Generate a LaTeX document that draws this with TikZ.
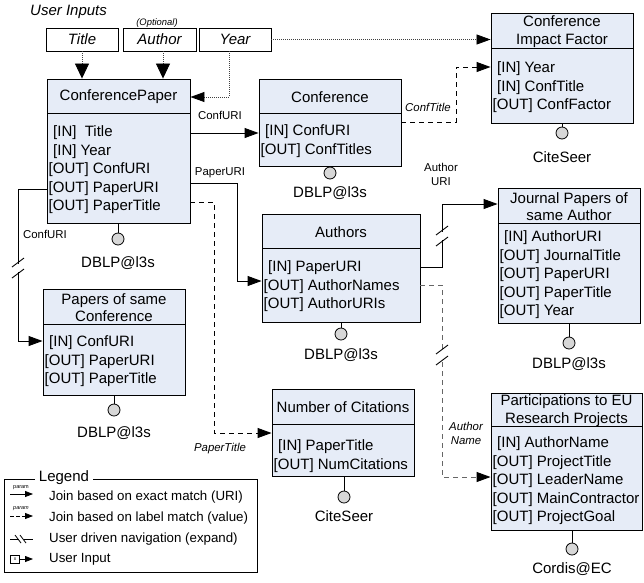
\documentclass[tikz,border=0pt]{standalone}
\usepackage{fontspec}
\setmainfont{Liberation Sans}
\usetikzlibrary{arrows.meta,fit,calc}
\definecolor{boxfill}{RGB}{230,236,247}
\definecolor{plugfill}{RGB}{215,215,215}

\tikzset{
  svcbox/.style={draw, fill=boxfill, line width=0.9pt, inner sep=0pt},
  hdr/.style={font=\fontsize{15}{17.5}\selectfont, align=center, inner sep=0pt},
  row/.style={font=\fontsize{15}{18}\selectfont, inner sep=0pt, anchor=base west},
  src/.style={font=\fontsize{15}{18}\selectfont, inner sep=0pt},
  plug/.style={circle, draw, line width=0.8pt, fill=plugfill, minimum size=12pt, inner sep=0pt},
  uin/.style={draw, fill=white, line width=0.9pt, font=\fontsize{15}{18}\selectfont\itshape, inner sep=0pt, minimum height=23pt},
  lbl/.style={font=\fontsize{11.4}{14}\selectfont, inner sep=0pt, align=center},
  ilbl/.style={font=\fontsize{11.4}{14}\selectfont\itshape, inner sep=0pt, align=center},
  legtxt/.style={font=\fontsize{13.3}{16}\selectfont, inner sep=0pt, anchor=west},
  tiny/.style={font=\fontsize{5.5}{6}\selectfont, inner sep=0pt},
  tip/.style={-{Triangle[length=14pt,width=10pt]}},
  smalltip/.style={-{Triangle[length=8pt,width=6pt]}},
  exact/.style={line width=0.9pt, tip},
  labelmatch/.style={line width=0.9pt, tip, dash pattern=on 5pt off 4pt},
  userin/.style={line width=0.8pt, black!75, dash pattern=on 1pt off 1pt, -{Triangle[length=14pt,width=10pt,black]}},
  brk/.style={line width=0.9pt},
}

% service box: name, x1, y1, x2, y2, divider y, title, first row y, rows
\newcommand\svc[9]{%
  \node[svcbox, fit={(#2,#3) (#4,#5)}] (#1) {};
  \draw[line width=0.9pt] (#2,#6) -- (#4,#6);
  \node[hdr] (#1-t) at ({(#2+#4)/2},{(#3+#6)/2+1}) {#7};
  \foreach \r [count=\i] in {#9}
    \node[row] (#1-r\i) at (#2+1.5, {#8+5.5+(\i-1)*18.5}) {\r};
}
% data source plug: box name, x, circle y, label y, label
\newcommand\plugat[5]{%
  \node[plug] (#1-p) at (#2,#3) {};
  \draw[line width=0.8pt] (#1.south -| #1-p) -- (#1-p);
  \node[src] (#1-s) at (#2,#4) {#5};
}
% navigation break marks on a vertical line at (x, y)
\newcommand\navbreak[2]{%
  \fill[white] (#1-2,#2-4) rectangle (#1+2,#2+4);
  \draw[brk] (#1-6,#2-1) -- (#1+6,#2-10);
  \draw[brk] (#1-6,#2+10) -- (#1+6,#2+1);
}
\newcommand\inrow{\hspace{4.5pt}}

\begin{document}
\begin{tikzpicture}[x=1pt, y=-1pt]
\useasboundingbox (0,0) rectangle (644,582);

% user inputs
\node[font=\fontsize{15}{18}\selectfont\itshape, inner sep=0pt, anchor=west] (uitl) at (30,12) {User Inputs};
\node[font=\fontsize{9.4}{11}\selectfont\itshape, inner sep=0pt] (opt) at (157,23) {(Optional)};
\node[uin, minimum width=72pt] (ti) at (82,39.5) {Title};
\node[uin, minimum width=73pt] (au) at (159.5,39.5) {Author};
\node[uin, minimum width=72pt] (yr) at (235,39.5) {Year};

% services
\svc{cp}{47}{79}{190}{223}{113}{ConferencePaper}{131}
  {\inrow[IN]\ \ Title, \inrow[IN] Year, [OUT] ConfURI, [OUT] PaperURI, [OUT] PaperTitle}
\svc{conf}{259}{79}{401}{166}{113}{Conference}{130}
  {\inrow[IN] ConfURI, [OUT] ConfTitles}
\svc{cif}{491}{13}{633}{123}{48}{Conference\\Impact Factor}{67}
  {\inrow[IN] Year, \inrow[IN] ConfTitle, [OUT] ConfFactor}
\svc{auth}{262}{214}{420}{322}{248}{Authors}{266}
  {\inrow[IN] PaperURI, [OUT] AuthorNames, [OUT] AuthorURIs}
\svc{jour}{498}{188}{640}{323}{223}{Journal Papers of\\same Author}{236}
  {\inrow[IN] AuthorURI, [OUT] JournalTitle, [OUT] PaperURI, [OUT] PaperTitle, [OUT] Year}
\svc{psc}{43}{289}{185}{395}{324}{Papers of same\\Conference}{341}
  {\inrow[IN] ConfURI, [OUT] PaperURI, [OUT] PaperTitle}
\svc{ncit}{272}{389}{414}{476}{424}{Number of Citations}{445}
  {\inrow[IN] PaperTitle, [OUT] NumCitations}
\svc{eup}{491}{393}{642}{530}{426}{Participations to EU\\Research Projects}{442}
  {\inrow[IN] AuthorName, [OUT] ProjectTitle, [OUT] LeaderName, [OUT] MainContractor, [OUT] ProjectGoal}

% data sources
\plugat{cp}{118}{239}{263}{DBLP@l3s}
\plugat{conf}{330}{173}{193}{DBLP@l3s}
\plugat{cif}{562}{133}{157}{CiteSeer}
\plugat{auth}{341}{334}{355}{DBLP@l3s}
\plugat{jour}{569}{343}{364}{DBLP@l3s}
\plugat{psc}{114}{410}{433}{DBLP@l3s}
\plugat{ncit}{344}{497}{516}{CiteSeer}
\plugat{eup}{572}{549}{569}{Cordis@EC}

% user input arrows
\draw[userin, -{Triangle[length=15pt,width=14pt,black]}] (ti.south) -- (ti.south |- cp.north);
\draw[userin, -{Triangle[length=15pt,width=14pt,black]}] (au.south -| 163,0) -- (cp.north -| 163,0);
\draw[userin] (yr.south -| 229,0) |- (cp.east |- 0,97);
\draw[userin] (yr.east) -- (cif.west |- yr.east);

% joins
\draw[exact] (cp.east |- 0,133) -- (conf.west |- 0,133);
\node[lbl] (l-confuri) at (220,115) {ConfURI};

\draw[exact] (cp.east |- 0,183) -- (237,183) -- (237,281) -- (auth.west |- 0,281);
\node[lbl] (l-paperuri) at (220,173) {PaperURI};

\draw[labelmatch] (cp.east |- 0,202) -- (214,202) -- (214,433) -- (ncit.west |- 0,433);
\node[ilbl] (l-papertitle) at (220,449) {PaperTitle};

\draw[exact] (cp.west |- 0,189) -- (18,189) -- (18,341) -- (psc.west |- 0,341);
\navbreak{18}{268}
\node[lbl] (l-confuri2) at (45,234) {ConfURI};

\draw[labelmatch] (conf.east |- 0,122) -- (456,122) -- (456,67) -- (cif.west |- 0,67);
\node[ilbl] (l-conftitle) at (428,107) {ConfTitle};

\draw[exact] (auth.east |- 0,267) -- (442,267) -- (442,204) -- (jour.west |- 0,204);
\navbreak{442}{236}
\node[lbl] (l-authoruri) at (441,174) {Author\\URI};

\draw[labelmatch, black!60, -{Triangle[length=14pt,width=10pt,black]}] (auth.east |- 0,285) -- (442,285) -- (442,477) -- (eup.west |- 0,477);
\navbreak{442}{355}
\node[ilbl] (l-authorname) at (466,433) {Author\\Name};

% legend
\draw[line width=0.9pt] (4,479) rectangle (257,572);
\node[font=\fontsize{15}{18}\selectfont, fill=white, inner xsep=4pt, inner ysep=0pt] (leg) at (64,478) {Legend};

\node[tiny] (lg-p1) at (21,488) {param};
\draw[line width=0.8pt, smalltip] (10,494) -- (33,494);
\node[legtxt] (lg-t1) at (49,497) {Join based on exact match (URI)};

\node[tiny, font=\fontsize{5.5}{6}\selectfont\itshape] (lg-p2) at (21,509) {param};
\draw[line width=0.8pt, smalltip, dash pattern=on 4pt off 2pt] (10,516) -- (33,516);
\node[legtxt] (lg-t2) at (49,518) {Join based on label match (value)};

\draw[line width=0.8pt] (10,539) -- (19,539);
\draw[line width=0.8pt] (24,539) -- (33,539);
\draw[line width=0.8pt] (15,535) -- (21,543);
\draw[line width=0.8pt] (20,535) -- (26,543);
\node[legtxt] (lg-t3) at (49,539) {User driven navigation (expand)};

\node[draw, line width=0.6pt, minimum width=9pt, minimum height=8pt, inner sep=0pt, font=\fontsize{5}{5}\selectfont] (lg-box) at (15,559) {x};
\draw[line width=0.8pt, smalltip] (lg-box.east) -- (33,559);
\node[legtxt] (lg-t4) at (49,559) {User Input};
\end{tikzpicture}
\end{document}
